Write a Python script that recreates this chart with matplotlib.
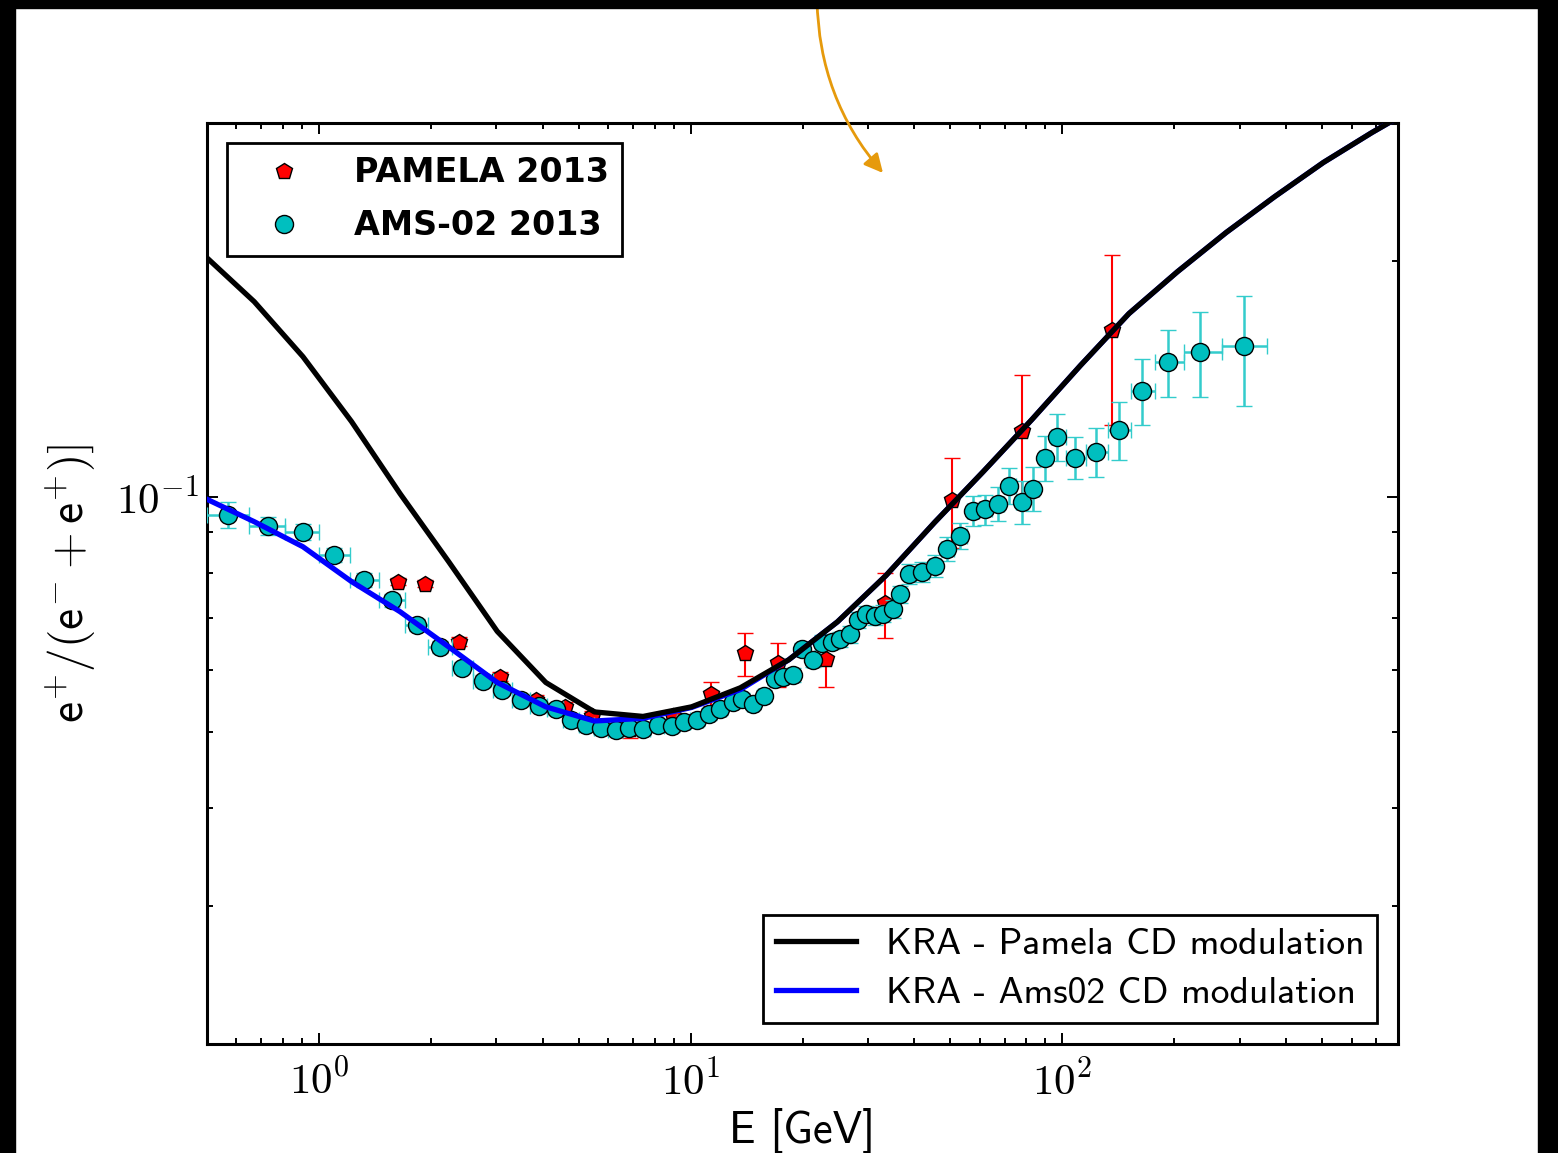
import numpy as np
import matplotlib
matplotlib.use('Agg')
import matplotlib.pyplot as plt
from matplotlib.lines import Line2D
from matplotlib.patches import Rectangle
from matplotlib.ticker import LogLocator, NullFormatter, FuncFormatter

plt.rcParams['mathtext.fontset'] = 'cm'

# AMS-02 2013 positron fraction
ams_E = [0.568, 0.729, 0.906, 1.098, 1.322, 1.573, 1.837, 2.119, 2.429, 2.767,
         3.113, 3.503, 3.917, 4.354, 4.777, 5.245, 5.755, 6.316, 6.848, 7.469,
         8.149, 8.890, 9.575, 10.38, 11.18, 11.97, 12.98, 13.72, 14.69, 15.73,
         16.84, 17.70, 18.83, 19.92, 21.33, 22.55, 23.99, 25.21, 26.83, 28.19,
         29.63, 31.33, 32.92, 35.04, 36.59, 38.70, 41.94, 45.48, 48.98, 53.10,
         57.56, 62.01, 67.22, 71.94, 78.01, 83.51, 90.00, 96.94, 108.4, 123.5,
         142.4, 164.3, 191.9, 234.0, 307.6]
ams_frac = [0.0948, 0.0918, 0.0902, 0.0843, 0.0783, 0.0737, 0.0686, 0.0643, 0.0605, 0.0582,
            0.0567, 0.0550, 0.0541, 0.0535, 0.0519, 0.0511, 0.0507, 0.0503, 0.0507, 0.0505,
            0.0511, 0.0510, 0.0515, 0.0519, 0.0528, 0.0535, 0.0547, 0.0552, 0.0544, 0.0557,
            0.0585, 0.0589, 0.0592, 0.0638, 0.0619, 0.0651, 0.0653, 0.0657, 0.0667, 0.0696,
            0.0709, 0.0703, 0.0709, 0.0719, 0.0750, 0.0797, 0.0802, 0.0816, 0.0858, 0.0892,
            0.0960, 0.0963, 0.0980, 0.1033, 0.0985, 0.1024, 0.1121, 0.1193, 0.1121, 0.1141,
            0.1218, 0.1366, 0.1487, 0.1532, 0.1555]
ams_err = [0.0036, 0.0024, 0.0022, 0.0018, 0.0016, 0.0014, 0.0012, 0.0011, 0.0010, 0.0010,
           0.0009, 0.0009, 0.0009, 0.0009, 0.0009, 0.0009, 0.0009, 0.0009, 0.0009, 0.0009,
           0.0009, 0.0009, 0.0009, 0.0009, 0.0009, 0.0009, 0.0009, 0.0009, 0.0009, 0.0009,
           0.0011, 0.0011, 0.0012, 0.0013, 0.0013, 0.0014, 0.0014, 0.0015, 0.0016, 0.0017,
           0.0017, 0.0018, 0.0018, 0.0019, 0.0019, 0.0023, 0.0023, 0.0026, 0.0030, 0.0034,
           0.0042, 0.0042, 0.0049, 0.0055, 0.0061, 0.0066, 0.0075, 0.0082, 0.0069, 0.0083,
           0.0103, 0.0133, 0.0146, 0.0190, 0.0250]
ams_edges = [0.50, 0.65, 0.81, 1.00, 1.21, 1.45, 1.70, 1.97, 2.28, 2.60,
             2.94, 3.30, 3.70, 4.11, 4.54, 5.00, 5.50, 6.00, 6.56, 7.16,
             7.80, 8.50, 9.21, 9.95, 10.77, 11.57, 12.46, 13.35, 14.20, 15.20,
             16.28, 17.27, 18.26, 19.37, 20.61, 21.93, 23.26, 24.59, 26.01, 27.51,
             28.90, 30.46, 32.11, 33.96, 35.80, 37.63, 40.29, 43.68, 47.20, 51.00,
             55.29, 59.75, 64.57, 69.57, 74.95, 80.72, 86.70, 93.41, 102.5, 115.7,
             132.6, 152.9, 177.5, 211.9, 268.3, 354.6]

# PAMELA 2013
pam_E = [1.633, 1.931, 2.384, 3.075, 3.846, 4.604, 5.443, 6.891, 8.945, 11.32,
         13.98, 17.16, 23.11, 33.34, 50.5, 78.0, 136.4]
pam_frac = [0.0779, 0.0774, 0.0653, 0.0589, 0.0550, 0.0538, 0.0524, 0.0505, 0.0524, 0.0560,
            0.0632, 0.0614, 0.0621, 0.0732, 0.0991, 0.1214, 0.1634]
pam_lo = [0.0008, 0.0008, 0.0008, 0.0008, 0.0008, 0.0008, 0.0008, 0.0013, 0.0010, 0.0019,
          0.0041, 0.0042, 0.0049, 0.0072, 0.0130, 0.0237, 0.0398]
pam_hi = [0.0008, 0.0008, 0.0008, 0.0008, 0.0008, 0.0008, 0.0008, 0.0017, 0.0010, 0.0020,
          0.0038, 0.0037, 0.0045, 0.0068, 0.0130, 0.0217, 0.0398]

# KRA model curves
kra_E = [0.496, 0.670, 0.906, 1.224, 1.653, 2.234, 3.018, 4.078, 5.511, 7.447,
         10.06, 13.60, 18.37, 24.83, 33.54, 45.33, 61.24, 82.76, 111.8, 151.1,
         204.2, 275.9, 372.7, 503.8, 680.7, 919.5]
kra_pamela = [0.2025, 0.1774, 0.1509, 0.1247, 0.1009, 0.0826, 0.0673, 0.0579, 0.0531, 0.0524,
              0.0539, 0.0570, 0.0619, 0.0692, 0.0793, 0.0927, 0.1076, 0.1254, 0.1470, 0.1713,
              0.1938, 0.2174, 0.2416, 0.2671, 0.2917, 0.3167]
kra_ams02 = [0.0994, 0.0929, 0.0863, 0.0779, 0.0713, 0.0643, 0.0579, 0.0539, 0.0517, 0.0521,
             0.0538, 0.0567, 0.0619, 0.0692, 0.0793, 0.0927, 0.1076, 0.1254, 0.1470, 0.1713,
             0.1938, 0.2174, 0.2416, 0.2671, 0.2917, 0.3167]

W, H = 1558, 1153
fig = plt.figure(figsize=(W / 100, H / 100), dpi=100)
ax = fig.add_axes([207 / W, 1 - 1044 / H, (1398 - 207) / W, (1044 - 123) / H])

E = np.array(ams_E)
edges = np.array(ams_edges)
xerr = [E - edges[:-1], edges[1:] - E]

ax.errorbar(pam_E, pam_frac, yerr=[pam_lo, pam_hi], fmt='p', ms=12, mfc='r', mec='k',
            mew=1, ecolor='r', elinewidth=1.5, capsize=5.5, capthick=1.5, zorder=3)
ax.errorbar(ams_E, ams_frac, xerr=xerr, yerr=ams_err, fmt='o', ms=13, mfc='c', mec='k',
            mew=1, ecolor='#33cccc', elinewidth=1.8, capsize=5.5, capthick=1.8, zorder=4)
ax.plot(kra_E, kra_ams02, color='b', lw=3.8, zorder=5)
ax.plot(kra_E, kra_pamela, color='k', lw=3.8, zorder=6)

ax.set_xscale('log')
ax.set_yscale('log')
ax.set_xlim(0.5, 800)
ax.set_ylim(0.02, 0.3)

ax.xaxis.set_minor_locator(LogLocator(base=10, subs=np.arange(2, 10)))
ax.yaxis.set_minor_locator(LogLocator(base=10, subs=np.arange(2, 10)))
fmt = FuncFormatter(lambda v, p: r'$10^{%d}$' % int(round(np.log10(v))))
ax.xaxis.set_major_formatter(fmt)
ax.yaxis.set_major_formatter(fmt)
ax.xaxis.set_minor_formatter(NullFormatter())
ax.yaxis.set_minor_formatter(NullFormatter())
ax.tick_params(which='both', direction='in', top=True, right=True, width=1.4, labelsize=31)
ax.tick_params(which='major', length=8)
ax.tick_params(which='minor', length=4.3)
ax.tick_params(axis='x', pad=12)
ax.tick_params(axis='y', pad=6)
for s in ax.spines.values():
    s.set_linewidth(2.2)

ax.set_xlabel('E [GeV]', fontfamily=['cmss10', 'DejaVu Sans'], fontsize=32, labelpad=3)
ax.set_ylabel(r'$\mathsf{e^{+}/(e^{-}+e^{+})]}$', fontsize=34, labelpad=12)

h_pam = Line2D([], [], ls='none', marker='p', ms=12, mfc='r', mec='k', mew=1)
h_ams = Line2D([], [], ls='none', marker='o', ms=13, mfc='c', mec='k', mew=1)
leg1 = ax.legend([h_pam, h_ams], ['PAMELA 2013', 'AMS-02 2013'], loc='upper left',
                 prop=dict(family='DejaVu Sans', weight='bold', size=24), numpoints=1,
                 handlelength=2.6, handletextpad=0.8, borderpad=0.4, borderaxespad=0.6,
                 labelspacing=0.6, fancybox=False, edgecolor='k', framealpha=1)
leg1.get_frame().set_linewidth(2)
ax.add_artist(leg1)

h_k = Line2D([], [], color='k', lw=3.8)
h_b = Line2D([], [], color='b', lw=3.8)
leg2 = ax.legend([h_k, h_b], ['KRA - Pamela CD modulation', 'KRA - Ams02 CD modulation'],
                 loc='lower right', prop=dict(family=['cmss10', 'DejaVu Sans'], size=27),
                 handlelength=2.13, handletextpad=0.8, borderpad=0.35, borderaxespad=0.55,
                 labelspacing=0.42, fancybox=False, edgecolor='k', framealpha=1)
leg2.get_frame().set_linewidth(2)

# orange arrow coming from above
ax.annotate('', xy=(883 / W, 1 - 173 / H), xytext=(817 / W, 1.0),
            xycoords='figure fraction', textcoords='figure fraction', annotation_clip=False,
            arrowprops=dict(arrowstyle='-|>', color='#e69a0c', lw=2, shrinkA=0, shrinkB=0,
                            connectionstyle='arc3,rad=0.18', mutation_scale=28))

# black frame strips
for r in [(0, 0, 15 / W, 1), (1 - 20 / W, 0, 20 / W, 1), (0, 1 - 8 / H, 1, 8 / H)]:
    fig.add_artist(Rectangle(r[:2], r[2], r[3], transform=fig.transFigure, color='k', zorder=10))

fig.savefig('out.png', dpi=100)
